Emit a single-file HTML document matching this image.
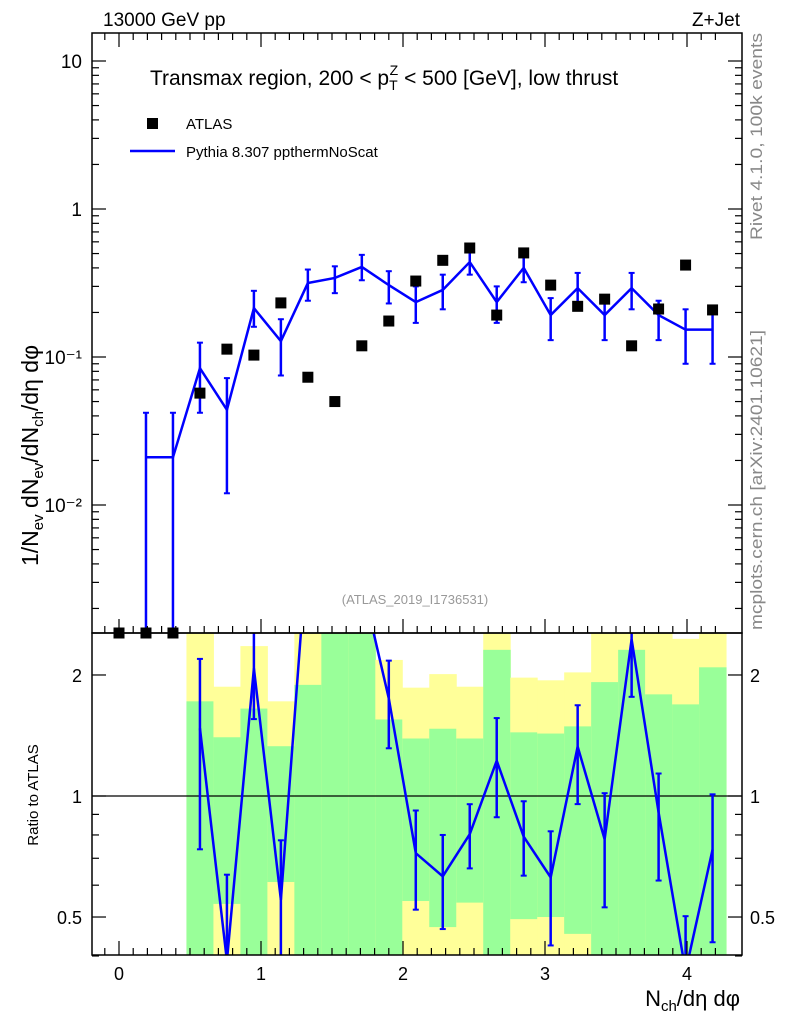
<!DOCTYPE html>
<html><head><meta charset="utf-8"><style>
html,body{margin:0;padding:0;background:#fff;overflow:hidden;width:786px;height:1024px}
svg{display:block}
svg text{font-family:"Liberation Sans","DejaVu Sans",sans-serif}
</style></head><body>
<svg id="c" width="786" height="1024" xmlns="http://www.w3.org/2000/svg">
<defs>
<clipPath id="cm"><rect x="92" y="33" width="650" height="600"/></clipPath>
<clipPath id="cr"><rect x="92" y="633" width="650" height="322"/></clipPath>
</defs>
<g id="bands" clip-path="url(#cr)"></g>
<g id="marks"></g>
<rect x="92" y="33" width="650" height="600" fill="none" stroke="#000" stroke-width="1.5"/>
<rect x="92" y="633" width="650" height="322" fill="none" stroke="#000" stroke-width="1.5"/>
<g id="axes"></g>
<text x="103" y="26" font-size="19">13000 GeV pp</text>
<text x="740" y="26" font-size="19" text-anchor="end">Z+Jet</text>
<text x="150" y="85" font-size="21">Transmax region, 200 &lt; p<tspan font-size="14" dy="5">T</tspan><tspan font-size="14" dx="-8" dy="-15">Z</tspan><tspan dy="10"> &lt; 500 [GeV], low thrust</tspan></text>
<rect x="147" y="118" width="11" height="11" fill="#000"/>
<text x="186" y="129" font-size="15">ATLAS</text>
<line x1="130" y1="151" x2="175" y2="151" stroke="#00f" stroke-width="2.5"/>
<text x="186" y="157" font-size="15">Pythia 8.307 ppthermNoScat</text>
<text x="415" y="604" font-size="13" fill="#999" text-anchor="middle">(ATLAS_2019_I1736531)</text>
<text transform="translate(762,240) rotate(-90)" font-size="17" fill="#888" textLength="207" lengthAdjust="spacingAndGlyphs">Rivet 4.1.0,  100k events</text>
<text transform="translate(762,630) rotate(-90)" font-size="17" fill="#888" textLength="300" lengthAdjust="spacingAndGlyphs">mcplots.cern.ch [arXiv:2401.10621]</text>
<text transform="translate(38,566) rotate(-90)" font-size="23">1/N<tspan font-size="15" dy="5">ev</tspan><tspan dy="-5"> dN</tspan><tspan font-size="15" dy="5">ev</tspan><tspan dy="-5">/dN</tspan><tspan font-size="15" dy="5">ch</tspan><tspan dy="-5">/dη dφ</tspan></text>
<text transform="translate(38,795) rotate(-90)" font-size="15" text-anchor="middle">Ratio to ATLAS</text>
<text x="740" y="1006" font-size="22" text-anchor="end">N<tspan font-size="15" dy="5">ch</tspan><tspan dy="-5">/dη dφ</tspan></text>
</svg>
<script>
const xs=[0,0.19,0.38,0.57,0.76,0.95,1.14,1.33,1.52,1.71,1.9,2.09,2.28,2.47,2.66,2.85,3.04,3.23,3.42,3.61,3.8,3.99,4.18];
const atlas=[0,0,0,0.057,0.113,0.103,0.232,0.073,0.050,0.119,0.175,0.326,0.45,0.545,0.192,0.505,0.306,0.22,0.246,0.119,0.211,0.418,0.208];
const mc=[0,0.021,0.021,0.084,0.044,0.214,0.128,0.316,0.342,0.406,0.306,0.235,0.284,0.438,0.235,0.40,0.192,0.292,0.192,0.292,0.192,0.153,0.153];
const mcHi=[0,0.042,0.042,0.125,0.072,0.28,0.18,0.39,0.41,0.49,0.38,0.30,0.36,0.52,0.30,0.49,0.25,0.37,0.25,0.37,0.24,0.21,0.21];
const mcLo=[0,0.0001,0.0001,0.042,0.012,0.16,0.075,0.24,0.27,0.33,0.23,0.17,0.21,0.36,0.17,0.32,0.13,0.21,0.13,0.21,0.13,0.09,0.09];
const yelHi=[0,0,0,2.6,1.87,2.36,1.72,2.6,2.6,2.6,2.18,1.86,2.01,1.87,2.6,1.97,1.94,2.03,2.6,2.6,2.6,2.46,2.6];
const grnHi=[0,0,0,1.72,1.40,1.65,1.33,1.89,2.6,2.6,1.55,1.39,1.47,1.39,2.31,1.44,1.43,1.49,1.92,2.31,1.79,1.69,2.09];
const grnLo=[0,0,0,0.38,0.539,0.38,0.611,0.38,0.38,0.38,0.38,0.548,0.472,0.543,0.38,0.494,0.50,0.454,0.38,0.38,0.38,0.38,0.38];
const yelLo=[0,0,0,0.38,0.38,0.38,0.38,0.38,0.38,0.38,0.38,0.38,0.38,0.38,0.38,0.38,0.38,0.38,0.38,0.38,0.38,0.38,0.38];
const xTicks=[0,1,2,3,4];
const yTicks=[0.01,0.1,1,10];
const yTickLabels=["10\u207B\u00B2","10\u207B\u00B9","1","10"];
const rTicks=[0.5,1,2];
const NS="http://www.w3.org/2000/svg";
const X=v=>119+142*v;
const Y=v=>v<=0?700:209-148*Math.log10(v);
const R=v=>796-402*Math.log10(v);
const half=0.095;
function mk(p,t,a){const e=document.createElementNS(NS,t);for(const k in a)e.setAttribute(k,a[k]);p.appendChild(e);return e;}
const bands=document.getElementById('bands'),marks=document.getElementById('marks'),axes=document.getElementById('axes');
xs.forEach((x,i)=>{if(!atlas[i])return;
 const y=mk(bands,'rect',{x:X(x-half),width:142*2*half+0.5,y:R(yelHi[i]),height:R(yelLo[i])-R(yelHi[i]),fill:'#ffff99'});
 
 
 const g=mk(bands,'rect',{x:X(x-half),width:142*2*half+0.5,y:R(grnHi[i]),height:R(grnLo[i])-R(grnHi[i]),fill:'#99ff99'});
 
 
});
const ref=mk(marks,'line',{x1:92,x2:742,y1:R(1),y2:R(1),stroke:'#000','stroke-width':1.2});


const gm=mk(marks,'g',{'clip-path':'url(#cm)'});
const gr=mk(marks,'g',{'clip-path':'url(#cr)'});
let pts=[];xs.forEach((x,i)=>{if(mc[i])pts.push(X(x)+','+Y(mc[i]));});
const ml=mk(gm,'polyline',{points:pts.join(' '),fill:'none',stroke:'#00f','stroke-width':2.5});


xs.forEach((x,i)=>{if(!mc[i])return;
 const e=mk(gm,'line',{x1:X(x),x2:X(x),y1:Y(mcHi[i]),y2:Y(mcLo[i]),stroke:'#00f','stroke-width':2.5});
 
 
 [mcHi[i],mcLo[i]].forEach(v=>mk(gm,'line',{x1:X(x)-3,x2:X(x)+3,y1:Y(v),y2:Y(v),stroke:'#00f','stroke-width':2}));
});
xs.forEach((x,i)=>{const yy=atlas[i]?Y(atlas[i]):633;
 const m=mk(marks,'rect',{x:X(x)-5.5,y:yy-5.5,width:11,height:11,fill:'#000'});
 
 
});
let rp=[];xs.forEach((x,i)=>{if(atlas[i])rp.push(X(x)+','+R(mc[i]/atlas[i]));});
const rl=mk(gr,'polyline',{points:rp.join(' '),fill:'none',stroke:'#00f','stroke-width':2.5});


xs.forEach((x,i)=>{if(!atlas[i])return;
 const hi=R(mcHi[i]/atlas[i]),lo=R(mcLo[i]/atlas[i]);
 const e=mk(gr,'line',{x1:X(x),x2:X(x),y1:hi,y2:lo,stroke:'#00f','stroke-width':2.5});
 
 
 [hi,lo].forEach(v=>mk(gr,'line',{x1:X(x)-3,x2:X(x)+3,y1:v,y2:v,stroke:'#00f','stroke-width':2}));
});
for(let v=-0.1;v<=4.3;v+=0.1){const t=Math.round(v*10)/10;const maj=Math.abs(t-Math.round(t))<1e-6;const L=maj?14:7;
 [633,955].forEach(b=>{mk(axes,'line',{x1:X(t),x2:X(t),y1:b,y2:b-L,stroke:'#000','stroke-width':1.2});});
 mk(axes,'line',{x1:X(t),x2:X(t),y1:33,y2:33+L,stroke:'#000','stroke-width':1.2});}
xTicks.forEach(v=>{const t=mk(axes,'text',{x:X(v),y:980,'font-size':18,'text-anchor':'middle'});t.textContent=v;
 
 });
for(let d=-3;d<=1;d++)for(let m=1;m<10;m++){const v=m*Math.pow(10,d);const y=Y(v);if(y<33||y>633)continue;const L=m==1?14:7;
 mk(axes,'line',{x1:92,x2:92+L,y1:y,y2:y,stroke:'#000','stroke-width':1.2});mk(axes,'line',{x1:742,x2:742-L,y1:y,y2:y,stroke:'#000','stroke-width':1.2});}
yTicks.forEach((v,i)=>{const t=mk(axes,'text',{x:82,y:Y(v)+7,'font-size':19,'text-anchor':'end'});t.textContent=yTickLabels[i];
 
 });
[0.4,0.5,0.6,0.7,0.8,0.9,1,2].forEach(v=>{const y=R(v);const L=rTicks.includes(v)?14:7;
 mk(axes,'line',{x1:92,x2:92+L,y1:y,y2:y,stroke:'#000','stroke-width':1.2});mk(axes,'line',{x1:742,x2:742-L,y1:y,y2:y,stroke:'#000','stroke-width':1.2});});
rTicks.forEach(v=>{[[82,'end'],[750,'start']].forEach(([x,a])=>{const t=mk(axes,'text',{x:x,y:R(v)+7,'font-size':18,'text-anchor':a});t.textContent=v;
 
 });});
</script>
</body></html>
